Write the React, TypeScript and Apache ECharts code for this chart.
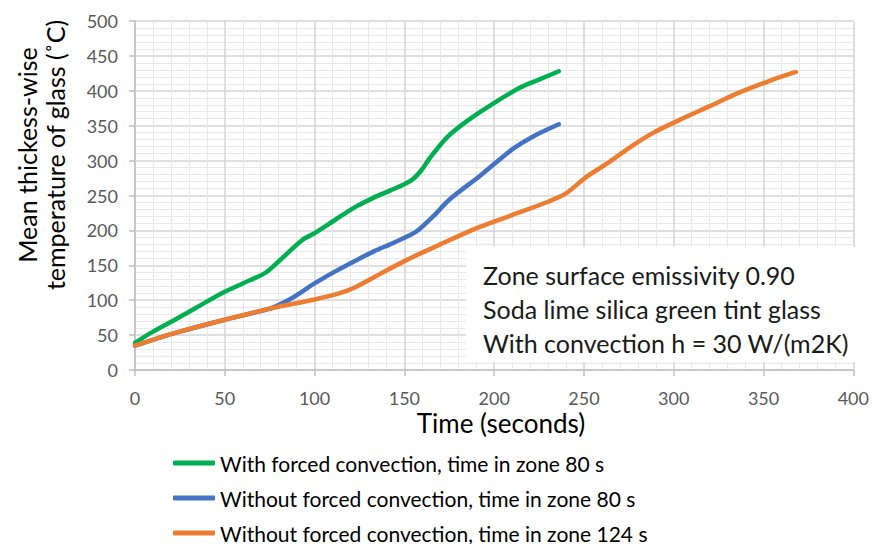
import React, { useEffect, useRef } from "react";
import * as echarts from "echarts";

const seriesNames = [
  "With forced convection, time in zone 80 s",
  "Without forced convection, time in zone 80 s",
  "Without forced convection, time in zone 124 s",
];

const greenData: [number, number][] = [
  [0, 39], [10, 55], [25, 76], [40, 98], [50, 112], [60, 124], [73, 140], [81, 158],
  [93, 186], [100, 196], [112, 216], [123, 234], [133, 247], [142, 257], [150, 266],
  [155, 274], [160, 288], [164, 303], [174, 334], [185, 357], [199, 381], [214, 404],
  [225, 416], [236, 428],
];

const blueData: [number, number][] = [
  [0, 35], [12, 45], [25, 55], [50, 72], [75, 88], [86, 101], [100, 124], [112, 142],
  [123, 157], [133, 170], [142, 180], [153, 193], [158, 201], [166, 220], [175, 244],
  [192, 278], [210, 316], [222, 335], [236, 352],
];

const orangeData: [number, number][] = [
  [0, 35], [12, 45], [25, 55], [50, 72], [75, 88], [100, 101], [114, 110], [123, 119],
  [136, 137], [150, 156], [170, 180], [192, 205], [210, 222], [229, 240], [240, 253],
  [251, 276], [263, 296], [275, 318], [288, 339], [303, 358], [320, 378], [337, 398],
  [353, 414], [368, 427],
];

const colors = ["#00b050", "#4472c4", "#ed7d31"];

const annotationLines = [
  "Zone surface emissivity 0.90",
  "Soda lime silica green tint glass",
  "With convection h = 30 W/(m2K)",
];

const yTitleLines = ["Mean thickess-wise", "temperature of glass (˚C)"];
const xTitle = "Time (seconds)";

const FONT = "Lato, 'Noto Sans', sans-serif";

export default function App() {
  const ref = useRef<HTMLDivElement>(null);
  useEffect(() => {
    const chart = echarts.init(ref.current!, null, { renderer: "svg" });
    const datasets = [greenData, blueData, orangeData];
    chart.setOption({
      animation: false,
      textStyle: { fontFamily: FONT },
      grid: { left: 135, right: 18, top: 21, bottom: 174 },
      xAxis: {
        type: "value",
        min: 0,
        max: 400,
        interval: 50,
        axisLine: { lineStyle: { color: "#bfbfbf", width: 1.5 } },
        axisTick: { show: true, length: 6, lineStyle: { color: "#bfbfbf", width: 1.5 } },
        axisLabel: { fontSize: 18, color: "#595959", margin: 19, fontFamily: FONT },
        splitLine: { show: true, lineStyle: { color: "#d4d4d4", width: 1.5 } },
        minorTick: { show: false, splitNumber: 5 },
        minorSplitLine: { show: true, lineStyle: { color: "#e8e8e8", width: 1 } },
      },
      yAxis: {
        type: "value",
        min: 0,
        max: 500,
        interval: 50,
        axisLine: { show: true, lineStyle: { color: "#bfbfbf", width: 1.5 } },
        axisTick: { show: true, length: 6, lineStyle: { color: "#bfbfbf", width: 1.5 } },
        axisLabel: { fontSize: 18, color: "#595959", margin: 17, fontFamily: FONT },
        splitLine: { show: true, lineStyle: { color: "#d4d4d4", width: 1.5 } },
        minorTick: { show: false, splitNumber: 5 },
        minorSplitLine: { show: true, lineStyle: { color: "#e8e8e8", width: 1 } },
      },
      legend: {
        orient: "vertical",
        left: 173,
        top: 452,
        padding: 0,
        icon: "roundRect",
        itemWidth: 42,
        itemHeight: 5,
        itemGap: 13,
        data: seriesNames,
        textStyle: { fontSize: 21, color: "#000", lineHeight: 22, fontFamily: FONT },
      },
      series: datasets.map((d, i) => ({
        name: seriesNames[i],
        type: "line",
        data: d,
        symbol: "none",
        smooth: 0.3,
        color: colors[i],
        itemStyle: { color: colors[i] },
        lineStyle: { width: 4.5, color: colors[i], cap: "round", join: "round" },
        z: 3 + i,
      })),
      graphic: [
        {
          type: "rect",
          shape: { x: 466, y: 247, width: 406, height: 115 },
          style: { fill: "#ffffff" },
          z: 10,
        },
        ...annotationLines.map((t, i) => ({
          type: "text",
          x: 483,
          y: 275 + i * 34,
          z: 11,
          style: {
            text: t,
            fill: "#1a1a1a",
            font: `25px ${FONT}`,
            verticalAlign: "middle",
            align: "left",
          },
        })),
        ...yTitleLines.map((t, i) => ({
          type: "text",
          x: 27 + i * 28,
          y: 155,
          rotation: Math.PI / 2,
          z: 11,
          style: {
            text: t,
            fill: "#000",
            font: `25px ${FONT}`,
            verticalAlign: "middle",
            align: "center",
          },
        })),
        {
          type: "text",
          x: 501,
          y: 423,
          z: 11,
          style: {
            text: xTitle,
            fill: "#000",
            font: `26px ${FONT}`,
            verticalAlign: "middle",
            align: "center",
          },
        },
      ],
    });
    return () => chart.dispose();
  }, []);
  return (
    <div
      ref={ref}
      style={{ position: "absolute", left: 0, top: 0, width: 872, height: 544, background: "#fff" }}
    />
  );
}
